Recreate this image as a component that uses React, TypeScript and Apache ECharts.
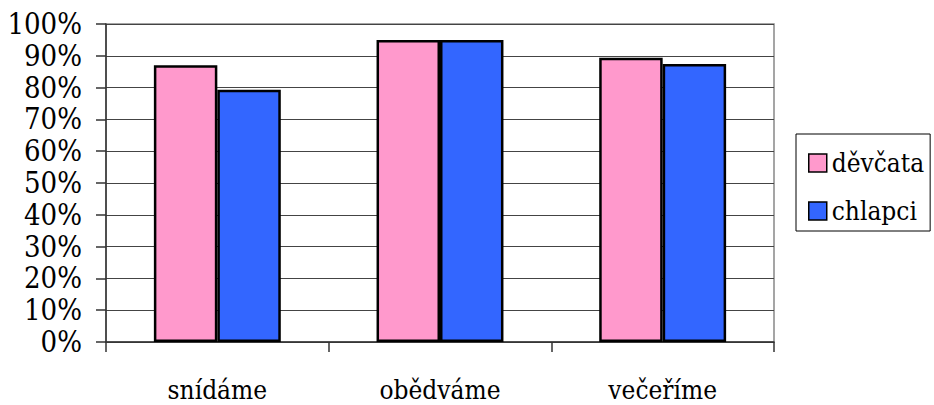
import React, { useEffect, useRef } from "react";
import * as echarts from "echarts";

const categories = ["snídáme", "obědváme", "večeříme"];
const divcata = [87, 95, 89.4];
const chlapci = [79.3, 95, 87.4];
const seriesNames = ["děvčata", "chlapci"];

const FONT = "DejaVu Serif Condensed";

export default function App() {
  const ref = useRef<HTMLDivElement>(null);
  useEffect(() => {
    document.body.style.margin = "0";
    const chart = echarts.init(ref.current!, null, { renderer: "svg" });
    chart.setOption({
      animation: false,
      backgroundColor: "#ffffff",
      textStyle: { fontFamily: FONT },
      grid: {
        left: 106,
        top: 24,
        right: 160,
        bottom: 63,
        show: true,
        borderColor: "#888888",
        borderWidth: 1.5,
      },
      legend: {
        left: 796,
        top: 134,
        orient: "vertical",
        data: seriesNames,
        icon: "rect",
        itemWidth: 18,
        itemHeight: 18,
        itemGap: 22,
        itemStyle: { borderColor: "#000", borderWidth: 1.5 },
        textStyle: { fontFamily: FONT, fontSize: 26, color: "#000", lineHeight: 18 },
        borderColor: "#000",
        borderWidth: 1,
        padding: [16, 6, 7, 12],
        itemTextGap: 11,
      },
      xAxis: {
        type: "category",
        data: categories,
        axisLine: { lineStyle: { color: "#333", width: 1.5 } },
        axisTick: { show: true, length: 10, lineStyle: { color: "#333", width: 1.5 } },
        axisLabel: { fontFamily: FONT, fontSize: 26, color: "#000", margin: 35 },
      },
      yAxis: {
        type: "value",
        min: 0,
        max: 100,
        interval: 10,
        axisLine: { show: true, lineStyle: { color: "#333", width: 1.5 } },
        axisTick: { show: true, length: 10, lineStyle: { color: "#333", width: 1.5 } },
        axisLabel: { fontFamily: FONT, fontSize: 29, color: "#000", margin: 24, formatter: "{value}%" },
        splitLine: { lineStyle: { color: "#444", width: 1.2 } },
      },
      series: [
        {
          name: seriesNames[0],
          type: "bar",
          data: divcata,
          barGap: "0%",
          barCategoryGap: "43%",
          itemStyle: { color: "#FF99CC", borderColor: "#000", borderWidth: 2.5 },
        },
        {
          name: seriesNames[1],
          type: "bar",
          data: chlapci,
          itemStyle: { color: "#3366FF", borderColor: "#000", borderWidth: 2.5 },
        },
      ],
    });
    return () => chart.dispose();
  }, []);
  return <div ref={ref} style={{ width: 934, height: 405 }} />;
}
